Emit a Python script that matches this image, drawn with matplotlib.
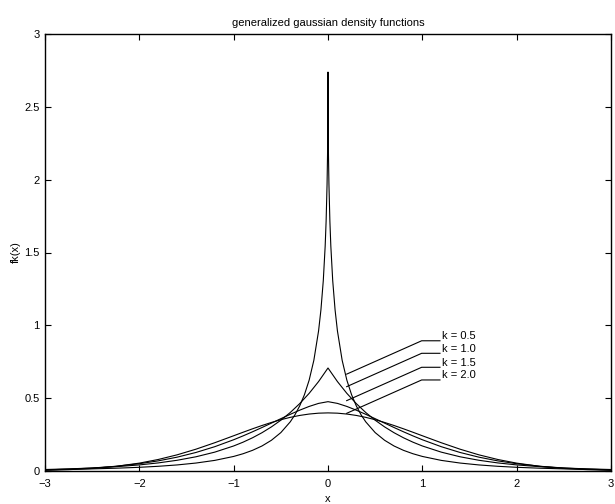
import matplotlib
matplotlib.use('Agg')
import matplotlib.pyplot as plt
import numpy as np

plt.rcParams['font.family'] = ['Liberation Sans', 'DejaVu Sans']
plt.rcParams['font.size'] = 8

# densities sampled for x >= 0 (curves are symmetric about x = 0)
x_half = [0, 0.1, 0.2, 0.3, 0.4, 0.5, 0.6, 0.7, 0.8, 0.9, 1.0,
          1.2, 1.4, 1.6, 1.8, 2.0, 2.25, 2.5, 2.75, 3.0]
f_k10 = [0.7071, 0.6139, 0.5329, 0.4626, 0.4016, 0.3487, 0.3027, 0.2628, 0.2281, 0.1980, 0.1719,
         0.1296, 0.0976, 0.0736, 0.0555, 0.0418, 0.0293, 0.0206, 0.0145, 0.0102]
f_k15 = [0.4760, 0.4641, 0.4432, 0.4176, 0.3891, 0.3591, 0.3287, 0.2985, 0.2692, 0.2411, 0.2146,
         0.1670, 0.1272, 0.0949, 0.0695, 0.0500, 0.0324, 0.0204, 0.0126, 0.0076]
f_k20 = [0.3989, 0.3970, 0.3910, 0.3814, 0.3683, 0.3521, 0.3332, 0.3123, 0.2897, 0.2661, 0.2420,
         0.1942, 0.1497, 0.1109, 0.0790, 0.0540, 0.0317, 0.0175, 0.0091, 0.0044]

# k = 0.5 has a sharp peak, so it needs a finer grid near zero
x_k05 = [0, 0.0005, 0.001, 0.002, 0.005, 0.01, 0.02, 0.03, 0.05, 0.075, 0.1, 0.15, 0.2,
         0.25, 0.3, 0.35, 0.4, 0.5, 0.6, 0.7, 0.8, 0.9, 1.0,
         1.2, 1.4, 1.6, 1.8, 2.0, 2.25, 2.5, 2.75, 3.0]
f_k05 = [2.7386, 2.5432, 2.4665, 2.3618, 2.1672, 1.9669, 1.7148, 1.5437, 1.3065, 1.1063, 0.9615, 0.7600, 0.6233,
         0.5234, 0.4469, 0.3865, 0.3376, 0.2636, 0.2109, 0.1717, 0.1419, 0.1186, 0.1000,
         0.0729, 0.0546, 0.0416, 0.0323, 0.0254, 0.0191, 0.0146, 0.0113, 0.0089]

labels = ['k = 0.5', 'k = 1.0', 'k = 1.5', 'k = 2.0']


def mirror(x, y):
    x = np.asarray(x)
    y = np.asarray(y)
    return np.concatenate([-x[::-1], x[1:]]), np.concatenate([y[::-1], y[1:]])


fig = plt.figure(figsize=(6.15, 5.04), dpi=100)
ax = fig.add_axes([45/615, 33/504, 566/615, 437/504])

for xs, ys in [(x_k05, f_k05), (x_half, f_k10), (x_half, f_k15), (x_half, f_k20)]:
    xx, yy = mirror(xs, ys)
    ax.plot(xx, yy, color='black', lw=0.8)

# leader lines from labels to the curves
knee_y = [0.894, 0.808, 0.712, 0.625]
for lab, ky in zip(labels, knee_y):
    ax.plot([0.198, 0.993, 1.187], [ky - 0.229, ky, ky], color='black', lw=0.8)
    ax.text(1.205, ky + 0.032, lab, va='center', ha='left', fontsize=8)

ax.set_xlim(-3, 3)
ax.set_ylim(0, 3)
ax.set_xticks([-3, -2, -1, 0, 1, 2, 3])
ax.set_yticks([0, 0.5, 1, 1.5, 2, 2.5, 3])
ax.set_yticklabels(['0', '0.5', '1', '1.5', '2', '2.5', '3'])
ax.tick_params(direction='in', top=True, right=True, length=4, width=0.8, labelsize=8)
ax.tick_params(axis='x', pad=5.5)
ax.tick_params(axis='y', pad=4)
for s in ax.spines.values():
    s.set_linewidth(1.0)

ax.set_xlabel('x', labelpad=3.5)
ax.set_ylabel('fk(x)', labelpad=2)
ax.set_title('generalized gaussian density functions', fontsize=8, pad=6)

fig.savefig('out.png', dpi=100)
